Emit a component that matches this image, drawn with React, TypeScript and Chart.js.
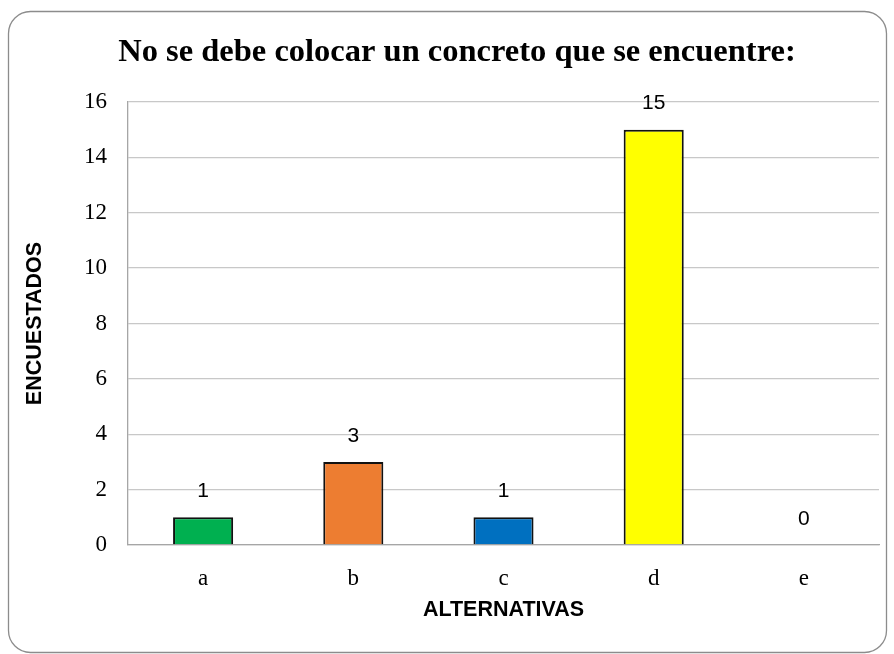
import React, { useEffect, useRef } from "react";
import { Chart, registerables } from "chart.js";

Chart.register(...registerables);

const TITLE = "No se debe colocar un concreto que se encuentre:";
const categories = ["a", "b", "c", "d", "e"];
const values = [1, 3, 1, 15, 0];
const barColors = ["#00B050", "#ED7D31", "#0070C0", "#FFFF00", "#A5A5A5"];
const yTitle = "ENCUESTADOS";
const xTitle = "ALTERNATIVAS";

const W = 894;
const H = 654;

const frame = {
  id: "frame",
  beforeDraw(chart: any) {
    const ctx = chart.ctx;
    ctx.save();
    ctx.fillStyle = "#ffffff";
    ctx.fillRect(0, 0, W, H);
    const x = 8.5, y = 11.5, w = 878, h = 641, r = 22;
    ctx.beginPath();
    ctx.moveTo(x + r, y);
    ctx.lineTo(x + w - r, y);
    ctx.arcTo(x + w, y, x + w, y + r, r);
    ctx.lineTo(x + w, y + h - r);
    ctx.arcTo(x + w, y + h, x + w - r, y + h, r);
    ctx.lineTo(x + r, y + h);
    ctx.arcTo(x, y + h, x, y + h - r, r);
    ctx.lineTo(x, y + r);
    ctx.arcTo(x, y, x + r, y, r);
    ctx.closePath();
    ctx.strokeStyle = "#8c8c8c";
    ctx.lineWidth = 1.3;
    ctx.stroke();
    ctx.restore();
  },
};

const labelsPlugin = {
  id: "valueLabels",
  afterDatasetsDraw(chart: any) {
    const ctx = chart.ctx;
    const meta = chart.getDatasetMeta(0);
    ctx.save();
    ctx.font = "21px 'Liberation Sans'";
    ctx.fillStyle = "#000";
    ctx.textAlign = "center";
    ctx.textBaseline = "middle";
    meta.data.forEach((el: any, i: number) => {
      ctx.fillText(String(values[i]), el.x, el.y - 26);
    });
    ctx.restore();
  },
};

export default function App() {
  const ref = useRef<HTMLCanvasElement>(null);
  useEffect(() => {
    document.body.style.margin = "0";
    const chart = new Chart(ref.current!, {
      type: "bar",
      data: {
        labels: categories,
        datasets: [
          {
            data: values,
            backgroundColor: barColors,
            borderColor: "#111111",
            borderWidth: 2,
            categoryPercentage: 0.4,
            barPercentage: 1,
          },
        ],
      },
      options: {
        responsive: false,
        animation: false,
        layout: { padding: { left: 35, right: 15, top: 0, bottom: 0 } },
        plugins: {
          legend: { display: false },
          tooltip: { enabled: false },
          title: {
            display: true,
            text: TITLE,
            color: "#000",
            font: { family: "'Liberation Serif'", size: 32.5, weight: "bold" },
            padding: { top: 33, bottom: 30 },
          },
        },
        scales: {
          x: {
            grid: { display: false, drawTicks: false },
            border: { display: true, color: "#a6a6a6", width: 1.3 },
            ticks: {
              color: "#000",
              font: { family: "'Liberation Serif'", size: 23 },
              padding: 20,
            },
            title: {
              display: true,
              text: xTitle,
              color: "#000",
              font: { family: "'Liberation Sans'", size: 21.5, weight: "bold" },
              padding: { top: 0, bottom: 31 },
            },
            afterFit: (scale: any) => {
              scale.height = 109;
            },
          },
          y: {
            min: 0,
            max: 16,
            ticks: {
              stepSize: 2,
              color: "#000",
              font: { family: "'Liberation Serif'", size: 23 },
              padding: 21,
            },
            grid: { color: "#c8c8c8", lineWidth: 1.3, drawTicks: false },
            border: { display: true, color: "#a6a6a6", width: 1.3 },
            title: {
              display: true,
              text: yTitle,
              color: "#000",
              font: { family: "'Liberation Sans'", size: 21.5, weight: "bold" },
              padding: { top: -12.9, bottom: 0 },
            },
            afterFit: (scale: any) => {
              scale.width = 93;
            },
          },
        },
      },
      plugins: [frame, labelsPlugin],
    });
    return () => chart.destroy();
  }, []);
  return <canvas ref={ref} width={W} height={H} style={{ display: "block" }} />;
}
